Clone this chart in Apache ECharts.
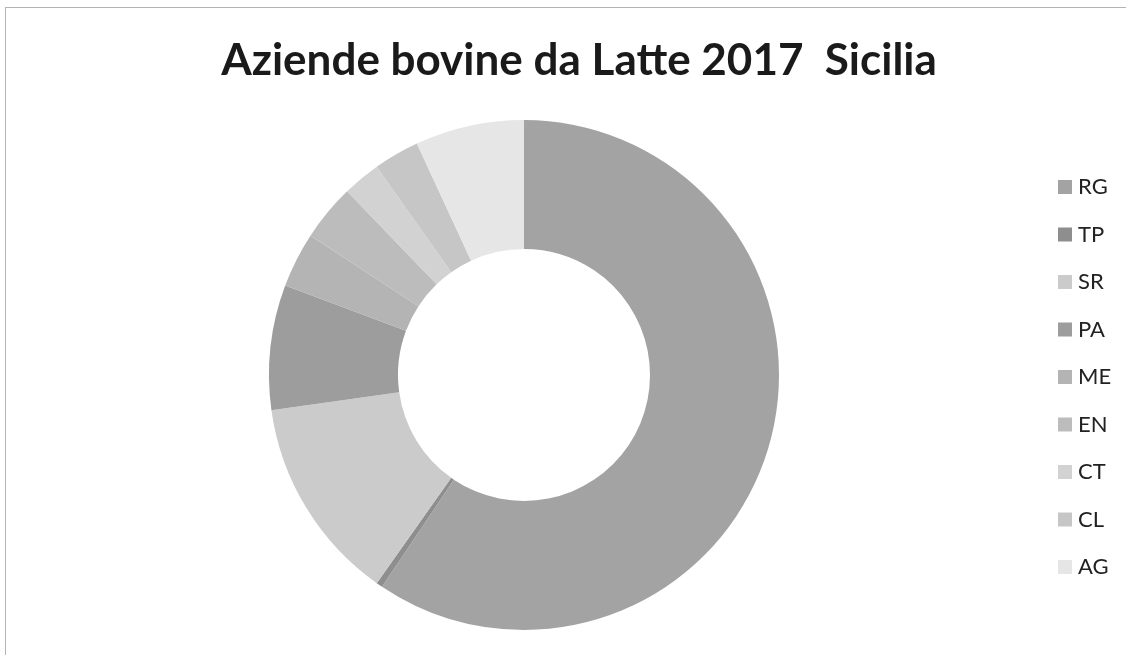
<!DOCTYPE html>
<html>
<head>
<meta charset="utf-8">
<script src="https://cdn.jsdelivr.net/npm/echarts@6/dist/echarts.min.js"></script>
<style>
  html, body { margin: 0; padding: 0; background: #fff; }
  #frame { position: absolute; left: 5px; top: 7px; width: 1130px; height: 660px; border: 1px solid #b4b4b4; box-sizing: border-box; }
  #chart { position: absolute; left: 0; top: 0; width: 1126px; height: 655px; }
</style>
</head>
<body>
<div id="frame"></div>
<div id="chart"></div>
<script>
// Dairy cattle farms per province, Sicily 2017
const provinces = ['RG', 'TP', 'SR', 'PA', 'ME', 'EN', 'CT', 'CL', 'AG'];
const farms = [594, 4, 130, 79, 35, 36, 24, 29, 69];
const shades = ['#a3a3a3', '#8e8e8e', '#cbcbcb', '#9d9d9d', '#b4b4b4', '#bcbcbc', '#d2d2d2', '#c6c6c6', '#e6e6e6'];

const chart = echarts.init(document.getElementById('chart'), null, { renderer: 'canvas' });

chart.setOption({
  animation: false,
  backgroundColor: 'transparent',
  title: {
    text: 'Aziende bovine da Latte 2017  Sicilia',
    left: 574,
    top: 34,
    textAlign: 'center',
    textStyle: {
      fontFamily: 'Lato, "Open Sans", sans-serif',
      fontWeight: 'bold',
      fontSize: 44,
      color: '#1a1a1a'
    }
  },
  legend: {
    orient: 'vertical',
    left: 1053,
    top: 171,
    icon: 'rect',
    itemWidth: 14,
    itemHeight: 14,
    itemGap: 25.5,
    data: provinces,
    textStyle: {
      fontFamily: 'Lato, "Open Sans", sans-serif',
      fontSize: 22,
      lineHeight: 22,
      padding: [0, 0, 0, 1],
      color: '#222'
    }
  },
  series: [{
    type: 'pie',
    center: [524, 375],
    radius: [126, 255],
    startAngle: 90,
    clockwise: true,
    label: { show: false },
    labelLine: { show: false },
    itemStyle: { borderWidth: 0 },
    emphasis: { disabled: true },
    data: provinces.map((name, i) => ({
      name,
      value: farms[i],
      itemStyle: { color: shades[i] }
    }))
  }]
});
</script>
</body>
</html>
